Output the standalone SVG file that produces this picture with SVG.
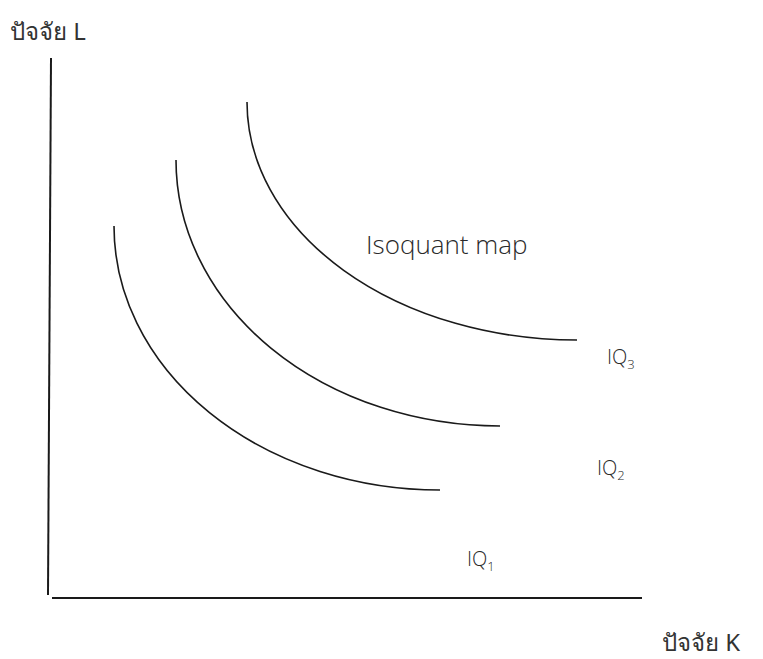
<svg xmlns="http://www.w3.org/2000/svg" width="763" height="659" viewBox="0 0 763 659">
<style>
.ax{stroke:#1a1a1a;stroke-width:2;fill:none}
.cv{stroke:#1a1a1a;stroke-width:1.6;fill:none}
.t{font-family:"Open Sans","Noto Sans","DejaVu Sans",sans-serif;font-weight:300;fill:#2a2a2a;}
.th{font-family:"Noto Sans","DejaVu Sans",sans-serif;font-weight:400;fill:#333;font-size:24px}
.map{font-size:26px}
.iq{font-size:20px}
.sub{font-size:13px}
</style>
<rect width="763" height="659" fill="#fff"/>
<g id="axes">
<line class="ax" x1="51" y1="58" x2="48" y2="595"/>
<line class="ax" x1="52" y1="598" x2="642" y2="598"/>
</g>
<g id="connectors">
<path id="curve-iq1" class="cv" d="M114,226 A326,264 0 0 0 440,490"/>
<path id="curve-iq2" class="cv" d="M176,160 A324,266 0 0 0 500,426"/>
<path id="curve-iq3" class="cv" d="M247,102 A330,238 0 0 0 577,340"/>
</g>
<g id="label-y"><text class="th" x="10" y="40">ปัจจัย L</text></g>
<g id="label-x"><text class="th" x="662" y="651">ปัจจัย K</text></g>
<g id="label-map"><text class="t map" x="366" y="254">Isoquant map</text></g>
<g id="iq3"><text class="t iq" x="607" y="364">IQ<tspan class="sub" dy="5">3</tspan></text></g>
<g id="iq2"><text class="t iq" x="597" y="475">IQ<tspan class="sub" dy="5">2</tspan></text></g>
<g id="iq1"><text class="t iq" x="467" y="566">IQ<tspan class="sub" dy="5">1</tspan></text></g>
</svg>
